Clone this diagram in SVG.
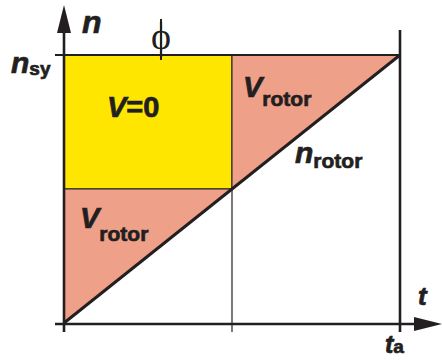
<svg xmlns="http://www.w3.org/2000/svg" width="442" height="363" viewBox="0 0 442 363">
<style>
.lbl{font-family:"Liberation Sans",Arial,sans-serif;font-weight:bold;fill:#231f20;stroke:#231f20;stroke-width:0.7}
.it{font-style:italic}
.ln{stroke:#231f20;fill:none}
</style>
<rect width="442" height="363" fill="#fff"/>
<g id="regions">
<g id="v0-region"><rect x="64" y="55" width="168" height="134" fill="#ffe600" stroke="#231f20" stroke-width="1.2"/></g>
<g id="vrotor-upper"><polygon points="232,55 400,55 232,189" fill="#efa088" stroke="#231f20" stroke-width="1"/></g>
<g id="vrotor-lower"><polygon points="64,189 64,323 232,189" fill="#efa088" stroke="#231f20" stroke-width="1"/></g>
</g>
<g id="connectors">
<line class="ln" x1="232" y1="189" x2="232" y2="332" stroke-width="1.2"/>
<line class="ln" x1="400" y1="30" x2="400" y2="332" stroke-width="2.6"/>
<line class="ln" x1="55" y1="55" x2="400" y2="55" stroke-width="2"/>
<line class="ln" x1="161" y1="19" x2="161" y2="60" stroke-width="2"/>
<line class="ln" x1="64" y1="323" x2="400" y2="55" stroke-width="3"/>
<line class="ln" x1="64" y1="30" x2="64" y2="332" stroke-width="2.6"/>
<polygon points="64,5 57,33 71,33" fill="#231f20"/>
<line class="ln" x1="55" y1="324" x2="416" y2="324" stroke-width="2.6"/>
<polygon points="442,324 414,317 414,331" fill="#231f20"/>
</g>
<g id="labels">
<text class="lbl it" x="82" y="33" font-size="32">n</text>
<text x="161" y="49" font-family="'Liberation Serif','Times New Roman',serif" font-size="38" text-anchor="middle" fill="#231f20">ϕ</text>
<text class="lbl" x="11" y="73"><tspan class="it" font-size="30">n</tspan><tspan font-size="19" dy="2">sy</tspan></text>
<text class="lbl" x="107" y="117" font-size="29"><tspan class="it">V</tspan>=0</text>
<text class="lbl" x="243" y="97"><tspan class="it" font-size="29">V</tspan><tspan font-size="21" dy="9">rotor</tspan></text>
<text class="lbl" x="80" y="228"><tspan class="it" font-size="29">V</tspan><tspan font-size="21" dy="13">rotor</tspan></text>
<text class="lbl" x="295" y="163"><tspan class="it" font-size="30">n</tspan><tspan font-size="21" dy="5">rotor</tspan></text>
<text class="lbl it" x="418" y="305" font-size="26">t</text>
<text class="lbl" x="385" y="353"><tspan class="it" font-size="25">t</tspan><tspan font-size="19">a</tspan></text>
</g>
</svg>
